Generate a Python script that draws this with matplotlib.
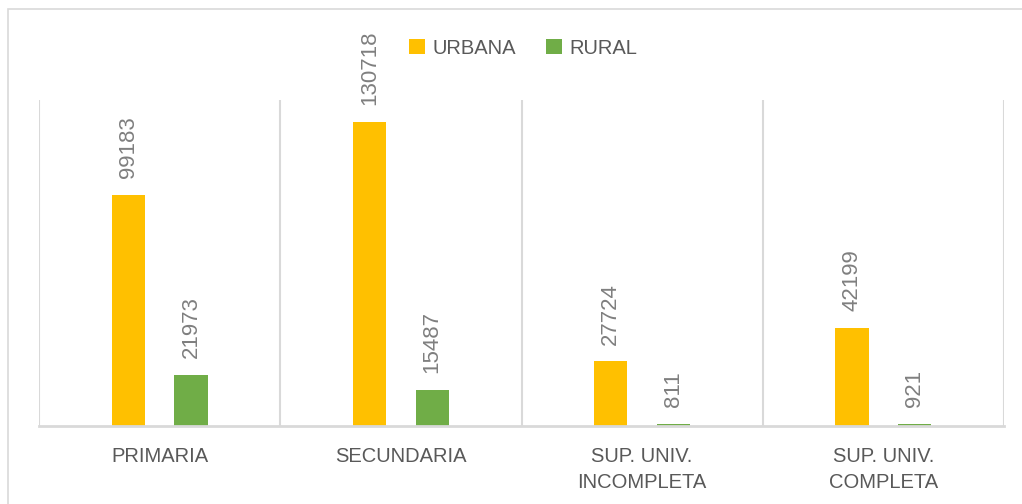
import matplotlib
matplotlib.use("Agg")
import matplotlib.pyplot as plt
from matplotlib.patches import Rectangle
import numpy as np

categories = ["PRIMARIA", "SECUNDARIA", "SUP. UNIV.\nINCOMPLETA", "SUP. UNIV.\nCOMPLETA"]
series_names = ["URBANA", "RURAL"]
urbana = [99183, 130718, 27724, 42199]
rural = [21973, 15487, 811, 921]
colors = ["#FFC000", "#70AD47"]

W, H = 1022, 504
fig = plt.figure(figsize=(W / 100, H / 100), dpi=100)
fig.patch.set_facecolor("white")

# outer chart border
fig.patches.append(Rectangle((8 / W, -0.1), 1.2, (H - 9) / H + 0.1, transform=fig.transFigure,
                             fill=False, edgecolor="#d9d9d9", linewidth=1.2))

ax = fig.add_axes([39 / W, (H - 426) / H, (1004 - 39) / W, (426 - 100) / H])
x = np.arange(len(categories))
bw = 0.137
off = 0.13
b1 = ax.bar(x - off, urbana, bw, color=colors[0], label=series_names[0])
b2 = ax.bar(x + off, rural, bw, color=colors[1], label=series_names[1])

ax.set_xlim(-0.5, len(categories) - 0.5)
ax.set_ylim(0, 140000)

narrow = ["Liberation Sans Narrow", "Liberation Sans", "DejaVu Sans"]
for bars in (b1, b2):
    for r in bars:
        ax.annotate(f"{int(r.get_height())}", (r.get_x() + r.get_width() / 2, r.get_height()),
                    xytext=(0, 12), textcoords="offset points", rotation=90,
                    ha="center", va="bottom", fontsize=16, color="#7f7f7f", family=narrow)

for b in np.arange(len(categories) + 1) - 0.5:
    ax.axvline(b, color="#d9d9d9", linewidth=1.5, zorder=0)

for s in ["top", "left", "right"]:
    ax.spines[s].set_visible(False)
ax.spines["bottom"].set_color("#d9d9d9")
ax.spines["bottom"].set_linewidth(2)
ax.set_yticks([])
ax.set_xticks(x)
ax.set_xticklabels(categories, fontsize=14.5, color="#595959", family=["Liberation Sans", "DejaVu Sans"],
                   linespacing=1.45)
ax.tick_params(axis="x", length=0, pad=15)

leg = fig.legend(handles=[b1, b2], labels=series_names, loc="center", bbox_to_anchor=(523 / W, (H - 48) / H),
                 ncol=2, frameon=False, handlelength=0.8, handleheight=0.8,
                 handletextpad=0.35, columnspacing=1.5, prop={"family": ["Liberation Sans", "DejaVu Sans"], "size": 14.5})
for t in leg.get_texts():
    t.set_color("#595959")

fig.savefig("out.png", dpi=100)
